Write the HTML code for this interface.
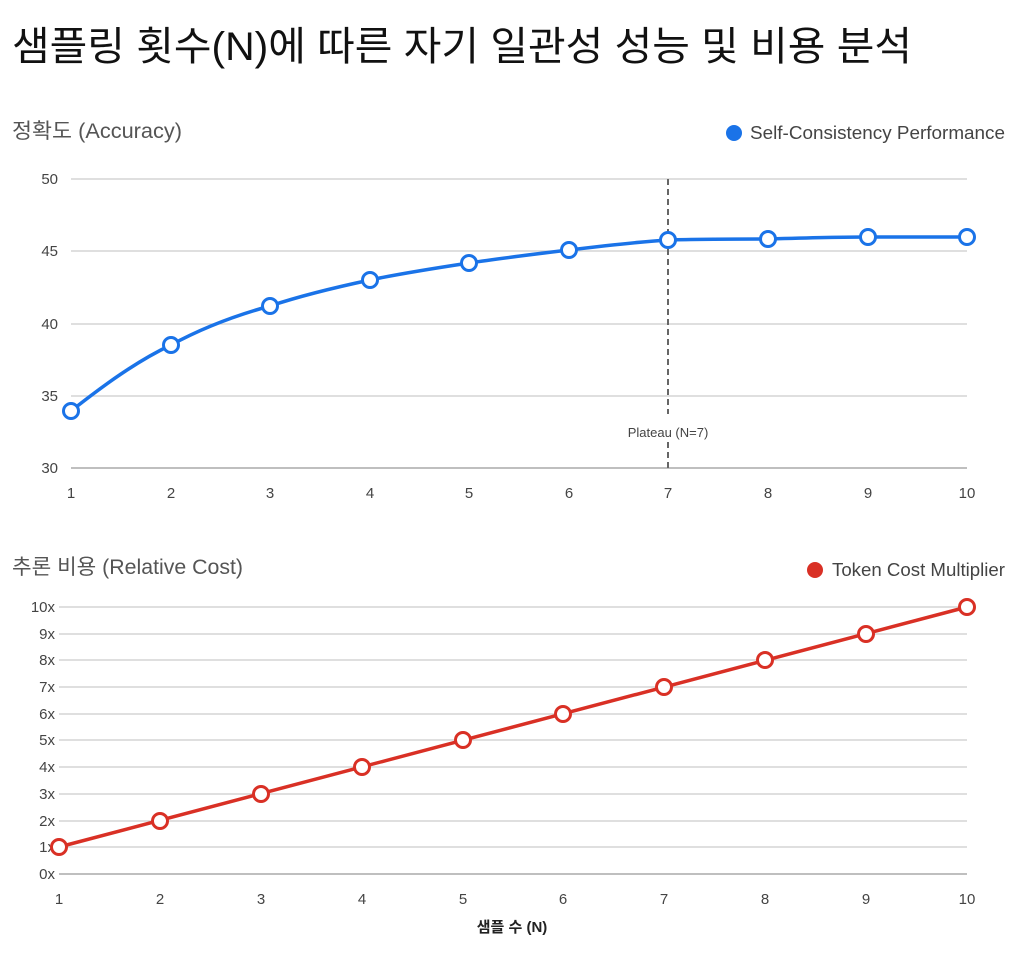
<!DOCTYPE html>
<html><head><meta charset="utf-8"><style>
body{margin:0;background:#fff;width:1024px;height:951px;overflow:hidden;font-family:"Liberation Sans","Noto Sans CJK KR",sans-serif}
</style></head><body>
<svg width="1024" height="951" xmlns="http://www.w3.org/2000/svg" font-family="Liberation Sans, Noto Sans CJK KR, sans-serif">
<text x="12" y="60" font-size="40" fill="#111" textLength="900" lengthAdjust="spacingAndGlyphs">샘플링 횟수(N)에 따른 자기 일관성 성능 및 비용 분석</text>
<text x="12" y="138" font-size="21" fill="#555" textLength="170" lengthAdjust="spacingAndGlyphs">정확도 (Accuracy)</text>
<circle cx="734" cy="133" r="8" fill="#1a73e8"/>
<text x="1005" y="139" font-size="18" fill="#444" text-anchor="end" textLength="255" lengthAdjust="spacingAndGlyphs">Self-Consistency Performance</text>
<g stroke="#ccc" stroke-width="1.2">
<line x1="71" x2="967" y1="179" y2="179"/><line x1="71" x2="967" y1="251" y2="251"/><line x1="71" x2="967" y1="324" y2="324"/><line x1="71" x2="967" y1="396" y2="396"/></g>
<line x1="71" x2="967" y1="468" y2="468" stroke="#999" stroke-width="1.2"/>
<g font-size="15" fill="#444" text-anchor="end"><text x="58" y="184">50</text><text x="58" y="256">45</text><text x="58" y="329">40</text><text x="58" y="401">35</text><text x="58" y="473">30</text></g>
<g font-size="15" fill="#444" text-anchor="middle">
<text x="71" y="498">1</text><text x="171" y="498">2</text><text x="270" y="498">3</text><text x="370" y="498">4</text><text x="469" y="498">5</text><text x="569" y="498">6</text><text x="668" y="498">7</text><text x="768" y="498">8</text><text x="868" y="498">9</text><text x="967" y="498">10</text></g>
<line x1="668" x2="668" y1="179" y2="414" stroke="#666" stroke-width="2" stroke-dasharray="6,4"/>
<line x1="668" x2="668" y1="442" y2="468" stroke="#666" stroke-width="2" stroke-dasharray="6,4"/>
<text x="668" y="437" font-size="13" fill="#444" text-anchor="middle">Plateau (N=7)</text>
<path d="M71,411 C104,385 137,361 171,345 C204,327 237,315 270,306 C303,295 337,287 370,280 C403,273 436,268 469,263 C502,258 536,254 569,250 C602,246 635,242 668,240 C701,239 735,239 768,239 C801,238 835,237 868,237 L967,237" fill="none" stroke="#1a73e8" stroke-width="3.5"/>
<g fill="#fff" stroke="#1a73e8" stroke-width="3">
<circle cx="71" cy="411" r="7.5"/><circle cx="171" cy="345" r="7.5"/><circle cx="270" cy="306" r="7.5"/><circle cx="370" cy="280" r="7.5"/><circle cx="469" cy="263" r="7.5"/><circle cx="569" cy="250" r="7.5"/><circle cx="668" cy="240" r="7.5"/><circle cx="768" cy="239" r="7.5"/><circle cx="868" cy="237" r="7.5"/><circle cx="967" cy="237" r="7.5"/></g>

<text x="12" y="574" font-size="21" fill="#555" textLength="231" lengthAdjust="spacingAndGlyphs">추론 비용 (Relative Cost)</text>
<circle cx="815" cy="570" r="8" fill="#d93025"/>
<text x="1005" y="576" font-size="18" fill="#444" text-anchor="end" textLength="173" lengthAdjust="spacingAndGlyphs">Token Cost Multiplier</text>
<g stroke="#ccc" stroke-width="1.2">
<line x1="59" x2="967" y1="607" y2="607"/><line x1="59" x2="967" y1="634" y2="634"/><line x1="59" x2="967" y1="660" y2="660"/><line x1="59" x2="967" y1="687" y2="687"/><line x1="59" x2="967" y1="714" y2="714"/><line x1="59" x2="967" y1="740" y2="740"/><line x1="59" x2="967" y1="767" y2="767"/><line x1="59" x2="967" y1="794" y2="794"/><line x1="59" x2="967" y1="821" y2="821"/><line x1="59" x2="967" y1="847" y2="847"/></g>
<line x1="59" x2="967" y1="874" y2="874" stroke="#999" stroke-width="1.2"/>
<g font-size="15" fill="#444" text-anchor="end">
<text x="55" y="612">10x</text><text x="55" y="639">9x</text><text x="55" y="665">8x</text><text x="55" y="692">7x</text><text x="55" y="719">6x</text><text x="55" y="745">5x</text><text x="55" y="772">4x</text><text x="55" y="799">3x</text><text x="55" y="826">2x</text><text x="55" y="852">1x</text><text x="55" y="879">0x</text></g>
<g font-size="15" fill="#444" text-anchor="middle">
<text x="59" y="904">1</text><text x="160" y="904">2</text><text x="261" y="904">3</text><text x="362" y="904">4</text><text x="463" y="904">5</text><text x="563" y="904">6</text><text x="664" y="904">7</text><text x="765" y="904">8</text><text x="866" y="904">9</text><text x="967" y="904">10</text></g>
<text x="512" y="932" font-size="15" font-weight="bold" fill="#222" text-anchor="middle">샘플 수 (N)</text>
<line x1="59" y1="847" x2="967" y2="607" stroke="#d93025" stroke-width="3.5"/>
<g fill="#fff" stroke="#d93025" stroke-width="3">
<circle cx="59" cy="847" r="7.5"/><circle cx="160" cy="821" r="7.5"/><circle cx="261" cy="794" r="7.5"/><circle cx="362" cy="767" r="7.5"/><circle cx="463" cy="740" r="7.5"/><circle cx="563" cy="714" r="7.5"/><circle cx="664" cy="687" r="7.5"/><circle cx="765" cy="660" r="7.5"/><circle cx="866" cy="634" r="7.5"/><circle cx="967" cy="607" r="7.5"/></g>
</svg>
</body></html>
